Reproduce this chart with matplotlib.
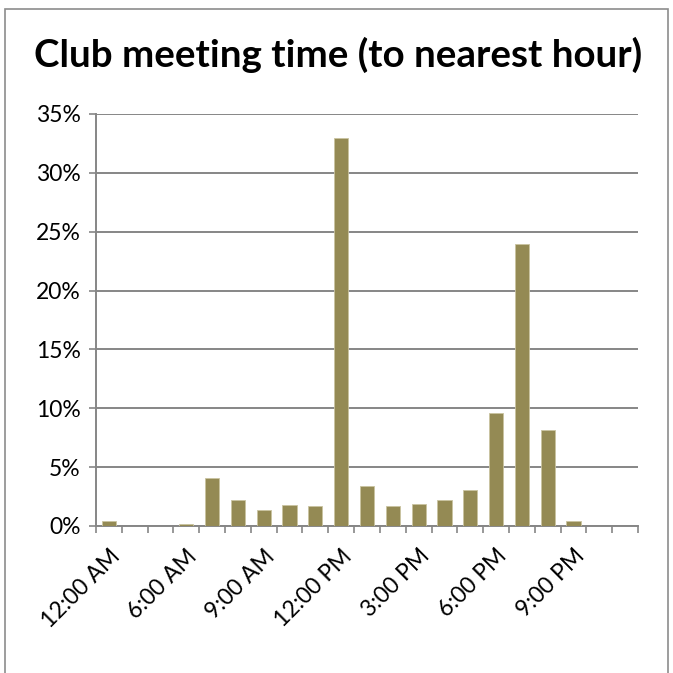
import matplotlib
matplotlib.use("Agg")
import matplotlib.pyplot as plt
from matplotlib.ticker import FuncFormatter, MultipleLocator
from matplotlib.patches import Rectangle

categories = ["12:00 AM", "4:00 AM", "5:00 AM", "6:00 AM", "7:00 AM", "8:00 AM", "9:00 AM",
              "10:00 AM", "11:00 AM", "12:00 PM", "1:00 PM", "2:00 PM", "3:00 PM", "4:00 PM",
              "5:00 PM", "6:00 PM", "7:00 PM", "8:00 PM", "9:00 PM", "10:00 PM", "11:00 PM"]
values = [0.42, 0.0, 0.0, 0.2, 4.1, 2.24, 1.36, 1.76, 1.70, 32.95, 3.43, 1.73, 1.84, 2.24,
          3.03, 9.63, 23.94, 8.19, 0.42, 0.0, 0.0]
title = "Club meeting time (to nearest hour)"

plt.rcParams['font.family'] = ['Lato', 'DejaVu Sans']

fig = plt.figure(figsize=(6.73, 6.73), dpi=100)
W = H = 673.0
ax = fig.add_axes([96 / W, 1 - 526 / H, (638 - 96) / W, (526 - 114) / H])

x = list(range(len(categories)))
ax.bar(x, values, width=0.55, color="#948A54", edgecolor="#C9C3A0", linewidth=0.6, zorder=3)

ax.set_xlim(-0.5, len(categories) - 0.5)
ax.set_ylim(0, 35)
ax.yaxis.set_major_locator(MultipleLocator(5))
ax.yaxis.set_major_formatter(FuncFormatter(lambda v, p: f"{int(round(v))}%"))
ax.grid(axis="y", color="#868686", linewidth=1.4, zorder=0)

ax.set_xticks(x[::3])
ax.set_xticklabels(categories[::3], rotation=45, ha="right", va="top", rotation_mode="anchor",
                   fontsize=16.5)
ax.set_xticks([i - 0.5 for i in range(len(categories) + 1)], minor=True)
ax.tick_params(axis="x", which="major", length=0, pad=14)
ax.tick_params(axis="x", which="minor", length=5, width=1.2, color="#868686")
ax.tick_params(axis="y", length=5, width=1.2, color="#868686", labelsize=16.5, pad=6)

for s in ["top", "right"]:
    ax.spines[s].set_visible(False)
for s in ["left", "bottom"]:
    ax.spines[s].set_color("#868686")
    ax.spines[s].set_linewidth(1.4)

fig.text(338 / W, 1 - 55 / H, title, ha="center", va="center", fontsize=27.7, fontweight="bold")

# chart border
fig.patches.append(Rectangle((5 / W, -0.05), (668 - 5) / W, 1 - 9 / H + 0.05, transform=fig.transFigure,
                             fill=False, edgecolor="#8C8C8C", linewidth=1.2))

fig.savefig("out.png", dpi=100)
